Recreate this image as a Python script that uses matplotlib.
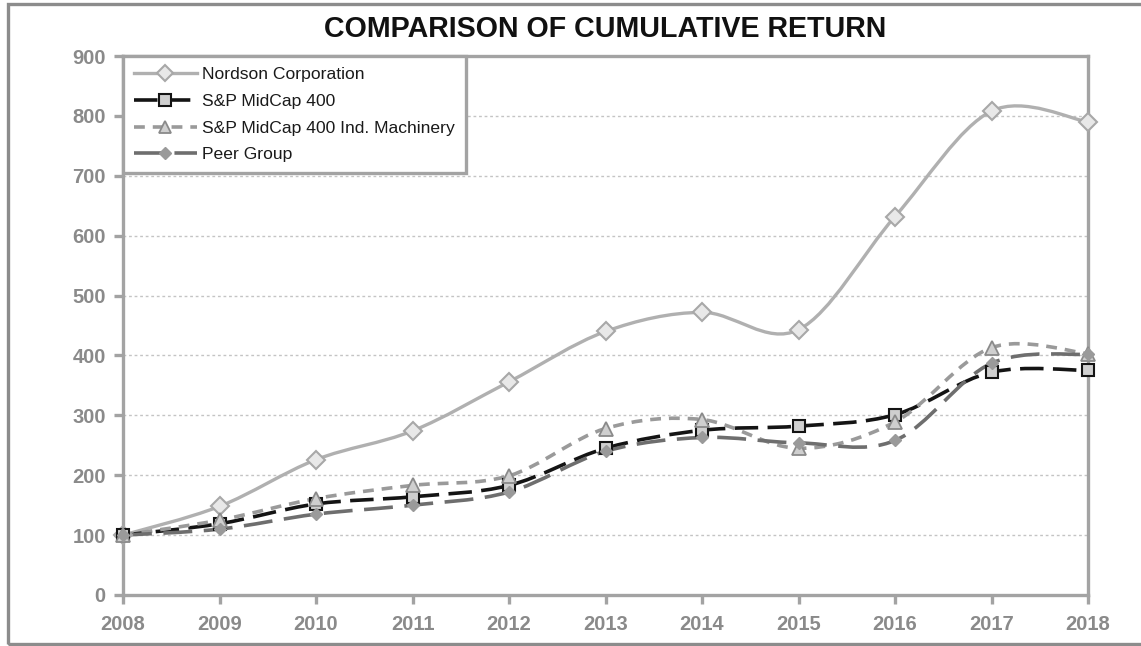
import matplotlib
matplotlib.use("Agg")
import matplotlib.pyplot as plt
from matplotlib.path import Path
from matplotlib.patches import PathPatch, Rectangle
from matplotlib.lines import Line2D

plt.rcParams['font.family'] = ['Liberation Sans', 'DejaVu Sans']

years = [2008, 2009, 2010, 2011, 2012, 2013, 2014, 2015, 2016, 2017, 2018]
nordson = [100, 148, 226, 274, 356, 440, 472, 443, 632, 808, 790]
midcap = [100, 119, 152, 164, 183, 245, 275, 282, 301, 372, 375]
machinery = [100, 125, 161, 183, 199, 278, 293, 245, 289, 413, 403]
peer = [100, 110, 135, 150, 172, 240, 263, 254, 258, 387, 402]
labels = ["Nordson Corporation", "S&P MidCap 400",
          "S&P MidCap 400 Ind. Machinery", "Peer Group"]

GRAY_AXIS = '#a3a3a3'
TICK_TEXT = '#8a8a8a'


def smooth_path(xs, ys):
    # excel style smoothing: cubic bezier, catmull-rom tangents / 6
    pts = list(zip(xs, ys))
    n = len(pts)
    verts = [pts[0]]
    codes = [Path.MOVETO]
    for i in range(n - 1):
        p0 = pts[i - 1] if i > 0 else pts[i]
        p1 = pts[i]
        p2 = pts[i + 1]
        p3 = pts[i + 2] if i + 2 < n else pts[i + 1]
        c1 = (p1[0] + (p2[0] - p0[0]) / 6, p1[1] + (p2[1] - p0[1]) / 6)
        c2 = (p2[0] - (p3[0] - p1[0]) / 6, p2[1] - (p3[1] - p1[1]) / 6)
        verts += [c1, c2, p2]
        codes += [Path.CURVE4] * 3
    return Path(verts, codes)


styles = [
    dict(color='#b0b0b0', lw=2.4, ls='-', marker='D', ms=9.5, mfc='#e8e8e8', mec='#a8a8a8', mew=1.5),
    dict(color='#141414', lw=2.6, ls=(0, (6.5, 2.6)), marker='s', ms=9, mfc='#cfcfcf', mec='#141414', mew=1.5),
    dict(color='#9a9a9a', lw=2.6, ls=(0, (3.0, 2.2)), marker='^', ms=10, mfc='#cfcfcf', mec='#8a8a8a', mew=1.3),
    dict(color='#6e6e6e', lw=2.6, ls=(0, (8.0, 3.2)), marker='D', ms=6.5, mfc='#9a9a9a', mec='#9a9a9a', mew=1.0),
]

fig = plt.figure(figsize=(11.41, 6.46), dpi=100)
ax = fig.add_axes([123 / 1141, 1 - 595 / 646, (1088 - 123) / 1141, (595 - 56) / 646])

handles = []
for vals, st, lab in zip([nordson, midcap, machinery, peer], styles, labels):
    patch = PathPatch(smooth_path(years, vals), fill=False, edgecolor=st['color'],
                      linewidth=st['lw'], linestyle=st['ls'], capstyle='butt')
    ax.add_patch(patch)
    ax.plot(years, vals, linestyle='none', marker=st['marker'], markersize=st['ms'],
            markerfacecolor=st['mfc'], markeredgecolor=st['mec'],
            markeredgewidth=st['mew'], clip_on=False, zorder=3)
    handles.append(Line2D([], [], color=st['color'], lw=st['lw'], ls=st['ls'],
                          marker=st['marker'], markersize=st['ms'] * 0.9,
                          markerfacecolor=st['mfc'], markeredgecolor=st['mec'],
                          markeredgewidth=st['mew'], dash_capstyle='butt'))

ax.set_xlim(2008, 2018)
ax.set_ylim(0, 900)
ax.set_xticks(years)
ax.set_yticks(range(0, 1000, 100))
ax.yaxis.grid(True, linestyle=(0, (2, 2)), color='#c4c4c4', linewidth=1)
ax.set_axisbelow(True)

for sp in ax.spines.values():
    sp.set_color(GRAY_AXIS)
    sp.set_linewidth(2.4)
ax.tick_params(axis='both', colors=GRAY_AXIS, width=2.4, length=6.5,
               labelcolor=TICK_TEXT, labelsize=14.5)
ax.tick_params(axis='y', pad=6)
ax.tick_params(axis='x', pad=8)
for t in ax.get_xticklabels() + ax.get_yticklabels():
    t.set_fontweight('bold')

ax.set_title("COMPARISON OF CUMULATIVE RETURN", fontsize=20.6, fontweight='bold',
             color='#111111', pad=14)

leg = ax.legend(handles, labels, loc='upper left', bbox_to_anchor=(0, 1),
                borderaxespad=0, fontsize=12.6, handlelength=3.6, handletextpad=0.3,
                borderpad=0.62, labelspacing=0.66, numpoints=1, fancybox=False,
                framealpha=1)
leg.get_frame().set_edgecolor(GRAY_AXIS)
leg.get_frame().set_linewidth(2.4)
for t in leg.get_texts():
    t.set_color('#1a1a1a')

fig.patches.append(Rectangle((8 / 1141, 2 / 646), 1.2, 640 / 646, transform=fig.transFigure,
                             fill=False, edgecolor='#8c8c8c', linewidth=2.4))

fig.savefig("out.png", dpi=100)
